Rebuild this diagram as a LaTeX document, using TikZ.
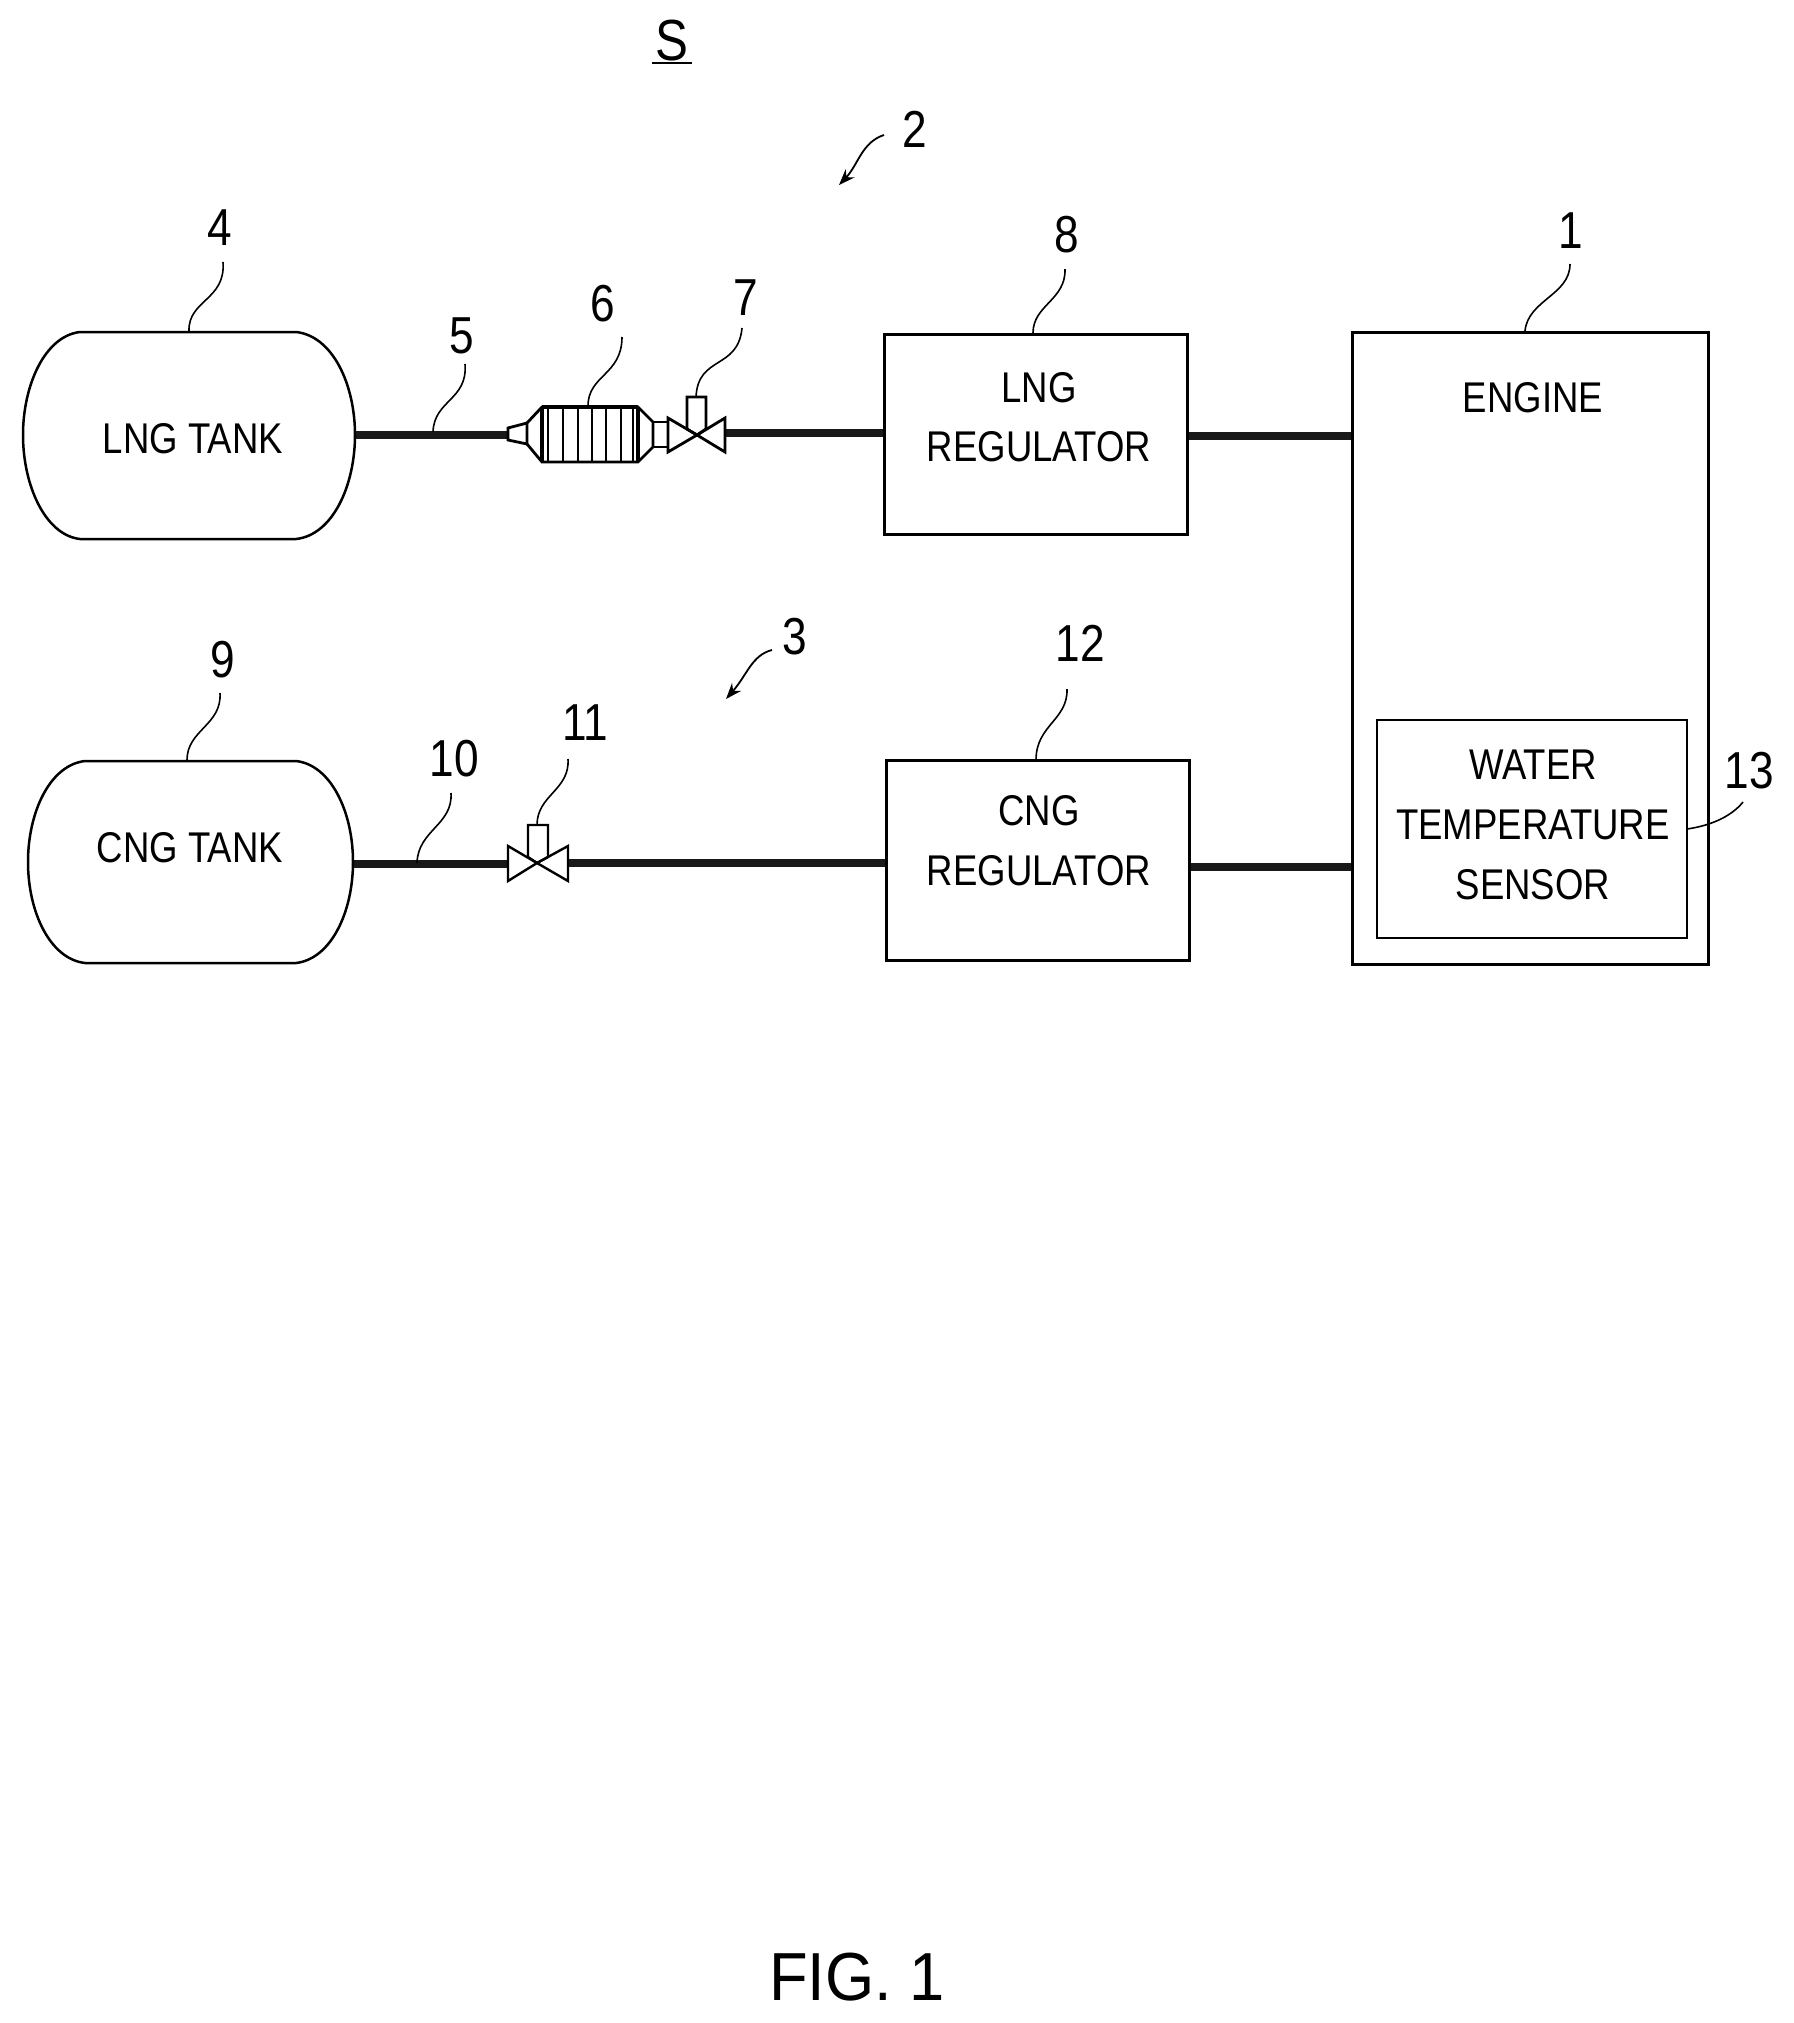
\documentclass[tikz,border=0pt]{standalone}
\usepackage{fontspec}
\setmainfont[FakeStretch=0.85]{Liberation Sans}
\newfontfamily\figfont[FakeStretch=0.93]{Liberation Sans}
\usetikzlibrary{arrows.meta}
\tikzset{
  box/.style={draw=black,line width=1.5pt,fill=white,inner sep=0pt},
  tank/.style={draw=black,line width=1.25pt},
  pipe/.style={draw=black!90,line width=4pt},
  part/.style={draw=black,line width=1.4pt,line join=miter},
  grid line/.style={draw=black,line width=0.7pt},
  leader/.style={draw=black,line width=0.8pt},
  callout/.style={draw=black,line width=0.9pt,-{Stealth[length=8pt,width=6pt]}},
  label/.style={inner sep=0pt,font=\fontsize{21.5}{24}\selectfont},
  num/.style={inner sep=0pt,font=\fontsize{26}{28}\selectfont}
}
\begin{document}
\begin{tikzpicture}[x=0.5pt,y=-0.5pt]
\useasboundingbox (0,0) rectangle (1793,2023);

% pipes
\coordinate (tankLout) at (355,435);
\coordinate (filterIn) at (508,435);
\coordinate (valveAout) at (725,433);
\coordinate (regAin) at (884,433);
\coordinate (regAout) at (1187,436);
\coordinate (engA) at (1352,436);
\coordinate (tankCout) at (353,864);
\coordinate (valveBin) at (508,864);
\coordinate (valveBout) at (568,863);
\coordinate (regBin) at (886,863);
\coordinate (regBout) at (1189,867);
\coordinate (engB) at (1352,867);
\draw[pipe] (tankLout) -- (filterIn);
\draw[pipe] (valveAout) -- (regAin);
\draw[pipe] (regAout) -- (engA);
\draw[pipe] (tankCout) -- (valveBin);
\draw[pipe] (valveBout) -- (regBin);
\draw[pipe] (regBout) -- (engB);

% tanks
\draw[tank] (80,332) .. controls (45,336) and (23,385) .. (23,435) .. controls (23,485) and (45,535) .. (80,539) -- (296,539) .. controls (333,535) and (355,485) .. (355,435) .. controls (355,385) and (333,336) .. (296,332) -- cycle;
\node[label] (lngtank) at (193,439) {LNG TANK};
\draw[tank] (85,761) .. controls (50,765) and (28,812) .. (28,862) .. controls (28,912) and (50,959) .. (85,963) -- (296,963) .. controls (331,959) and (353,912) .. (353,862) .. controls (353,812) and (331,765) .. (296,761) -- cycle;
\node[label] (cngtank) at (190,848) {CNG TANK};

% filter 6
\draw[part] (508,428) -- (527,423) -- (527,444) -- (508,440) -- cycle;
\draw[part] (527,423) -- (542,407) -- (638,407) -- (653,422) -- (653,447) -- (638,462) -- (542,462) -- (527,444);
\draw[part,line width=2pt] (542,407) -- (638,407);
\draw[part,line width=2pt] (542,407) -- (542,462);
\draw[part,line width=2pt] (638,407) -- (638,462);
\foreach \gx in {548,563,578,592,606,621,633} \draw[grid line] (\gx,407) -- (\gx,462);
\draw[part] (653,422) rectangle (668,447);

% valve 7
\draw[part] (697,435) -- (668,418) -- (668,452) -- cycle;
\draw[part] (697,435) -- (725,418) -- (725,452) -- cycle;
\draw[part] (697,435) -- (687,429) -- (687,397) -- (706,397) -- (706,429) -- cycle;

% valve 11
\draw[part,line width=1.2pt] (537,863) -- (508,846) -- (508,881) -- cycle;
\draw[part,line width=1.2pt] (537,863) -- (568,846) -- (568,881) -- cycle;
\draw[part,line width=1.2pt] (537,863) -- (528,857) -- (528,825) -- (548,825) -- (548,857) -- cycle;

% boxes
\node[box,minimum width=151.5pt,minimum height=100pt] (lngreg) at (1035.5,434) {};
\node[label] (lngregA) at (1039,388) {LNG};
\node[label] (lngregB) at (1039,447) {REGULATOR};
\node[box,minimum width=151.5pt,minimum height=100pt] (cngreg) at (1037.5,860) {};
\node[label] (cngregA) at (1039,811) {CNG};
\node[label] (cngregB) at (1039,871) {REGULATOR};
\node[box,minimum width=178pt,minimum height=316pt] (engine) at (1530,648) {};
\node[label] (enginet) at (1533,398) {ENGINE};
\node[box,line width=1.3pt,minimum width=155pt,minimum height=109pt] (sensor) at (1532,829) {};
\node[label] (sensorA) at (1533,765) {WATER};
\node[label] (sensorB) at (1533,825) {TEMPERATURE};
\node[label] (sensorC) at (1533,885) {SENSOR};

% numbers
\node[num,font=\fontsize{29}{30}\selectfont] (nS) at (672,41) {S};
\coordinate (nSa) at (652,63);
\coordinate (nSb) at (692,63);
\draw[line width=1.2pt] (nSa) -- (nSb);
\node[num] (n2) at (915,129) {2};
\node[num] (n3) at (795,637) {3};
\node[num] (n4) at (220,228) {4};
\node[num] (n5) at (462,336) {5};
\node[num] (n6) at (603,304) {6};
\node[num] (n7) at (746,298) {7};
\node[num] (n8) at (1067,235) {8};
\node[num] (n1) at (1571,231) {1};
\node[num] (n9) at (223,660) {9};
\node[num] (n10) at (454,759) {10};
\node[num] (n11) at (585,723) {11};
\node[num] (n12) at (1080,643) {12};
\node[num] (n13) at (1749,771) {13};

% leaders
\draw[callout] (884,135) .. controls (862,142) and (858,165) .. (839,185);
\draw[callout] (772,650) .. controls (752,655) and (747,675) .. (726,699);
\coordinate (l4) at (189,331);
\coordinate (l5) at (433,432);
\coordinate (l6) at (588,406);
\coordinate (l7) at (696,397);
\coordinate (l8) at (1033,333);
\coordinate (l1) at (1525,331);
\coordinate (l9) at (187,760);
\coordinate (l10) at (417,863);
\coordinate (l11) at (537,825);
\coordinate (l12) at (1036,760);
\coordinate (l13) at (1687,829);
\draw[leader] (223,262) .. controls (226,300) and (188,300) .. (l4);
\draw[leader] (465,364) .. controls (468,400) and (434,400) .. (l5);
\draw[leader] (622,337) .. controls (622,375) and (588,375) .. (l6);
\draw[leader] (742,328) .. controls (738,370) and (698,355) .. (l7);
\draw[leader] (1065,269) .. controls (1066,300) and (1033,305) .. (l8);
\draw[leader] (1570,264) .. controls (1570,295) and (1528,300) .. (l1);
\draw[leader] (220,693) .. controls (222,725) and (187,730) .. (l9);
\draw[leader] (451,793) .. controls (453,825) and (418,830) .. (l10);
\draw[leader] (568,759) .. controls (570,790) and (537,795) .. (l11);
\draw[leader] (1067,689) .. controls (1068,720) and (1036,725) .. (l12);
\draw[leader] (1743,802) .. controls (1730,818) and (1708,826) .. (l13);

% caption
\node[inner sep=0pt,font=\figfont\fontsize{34}{36}\selectfont] (fig) at (857,1977) {FIG. 1};
\end{tikzpicture}
\end{document}
